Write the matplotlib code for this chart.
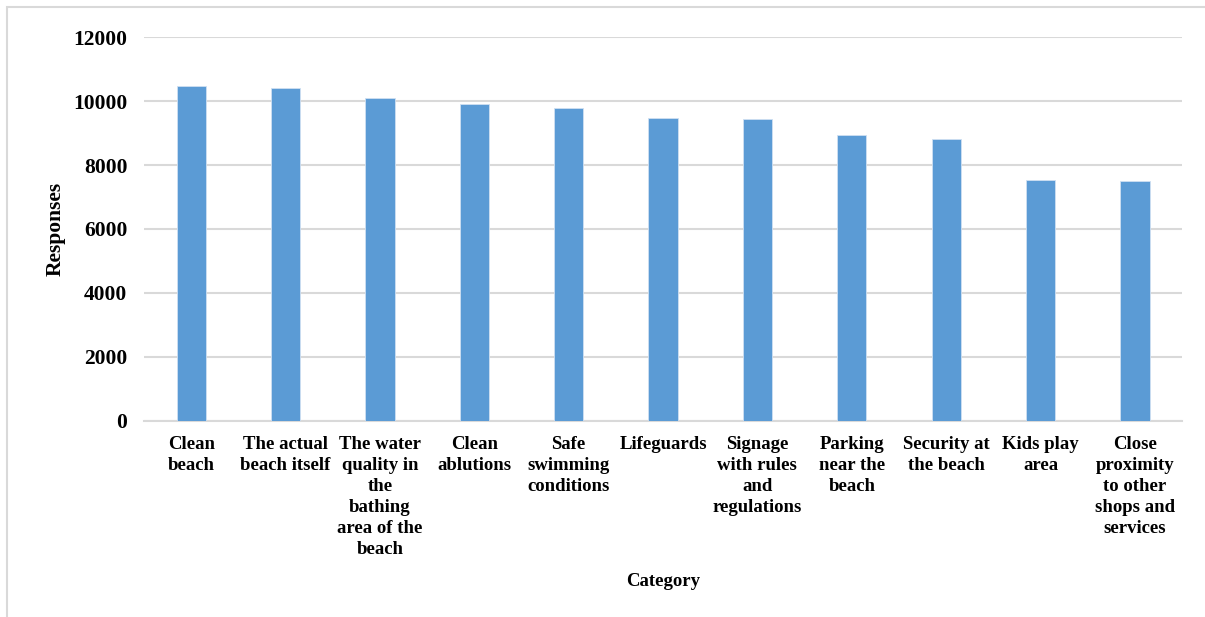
import matplotlib.pyplot as plt
from matplotlib.patches import Rectangle

# Beach attributes rated by respondents
categories = [
    "Clean\nbeach",
    "The actual\nbeach itself",
    "The water\nquality in\nthe\nbathing\narea of the\nbeach",
    "Clean\nablutions",
    "Safe\nswimming\nconditions",
    "Lifeguards",
    "Signage\nwith rules\nand\nregulations",
    "Parking\nnear the\nbeach",
    "Security at\nthe beach",
    "Kids play\narea",
    "Close\nproximity\nto other\nshops and\nservices",
]
responses = [10460, 10406, 10094, 9896, 9791, 9459, 9437, 8947, 8803, 7541, 7490]
y_ticks = [0, 2000, 4000, 6000, 8000, 10000, 12000]

plt.rcParams['font.family'] = ['Liberation Serif', 'DejaVu Serif']
plt.rcParams['font.weight'] = 'bold'

fig = plt.figure(figsize=(12.05, 6.17), dpi=100)
ax = fig.add_axes([0.1195, 0.3177, 0.8615, 0.6223])

x = range(len(categories))
ax.bar(x, responses, width=0.31, color='#5B9BD5', edgecolor='#CFE0F2',
       linewidth=0.6, zorder=3)

ax.set_xlim(-0.5, len(categories) - 0.5)
ax.set_ylim(0, 12000)
ax.set_yticks(y_ticks)
ax.set_yticklabels([str(v) for v in y_ticks], fontsize=15.5, fontweight='bold')
ax.set_xticks(list(x))
ax.set_xticklabels(categories, fontsize=13.5, fontweight='bold',
                   linespacing=1.31, va='top')
ax.tick_params(axis='both', length=0)
ax.tick_params(axis='y', pad=12)
ax.tick_params(axis='x', pad=11)

ax.grid(axis='y', color='#D9D9D9', linewidth=1.5, zorder=0)
for side in ['top', 'right', 'left']:
    ax.spines[side].set_visible(False)
ax.spines['bottom'].set_color('#D9D9D9')
ax.spines['bottom'].set_linewidth(1.5)

ax.set_ylabel('Responses', fontsize=15.5, fontweight='bold')
ax.set_xlabel('Category', fontsize=13.5, fontweight='bold')
ax.xaxis.set_label_coords(0.5, -0.395)
ax.yaxis.set_label_coords(-0.075, 0.5)

# chart frame, only its top and left edges fall inside the canvas
frame = Rectangle((7 / 1205, -0.01), 1.1, 1 - 7 / 617 + 0.01,
                  transform=fig.transFigure, fill=False,
                  edgecolor='#D9D9D9', linewidth=1.5)
fig.patches.append(frame)

fig.savefig('out.png', dpi=100)
